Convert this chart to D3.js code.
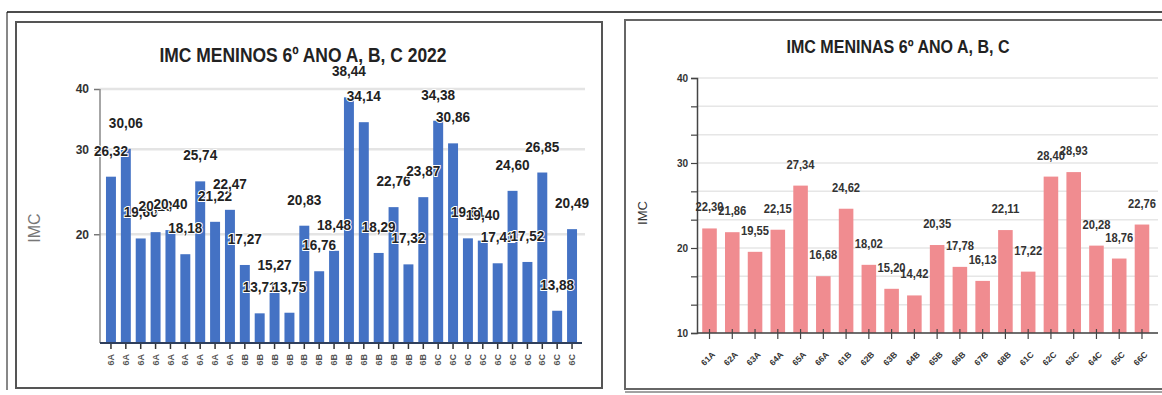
<!DOCTYPE html>
<meta charset="utf-8">
<script src="https://d3js.org/d3.v7.min.js"></script>
<style>
  body { margin: 0; background: #fff; }
  svg { display: block; }
  text { font-family: "Liberation Sans", Arial, sans-serif; }
</style>
<div id="chart"></div>
<script>
  // boys: categories and values
  var boysClass = ["6A","6A","6A","6A","6A","6A","6A","6A","6A",
    "6B","6B","6B","6B","6B","6B","6B","6B","6B","6B","6B","6B","6B",
    "6C","6C","6C","6C","6C","6C","6C","6C","6C","6C"];
  var boysIMC = [26.32, 30.06, 19.60, 20.20, 20.40, 18.18, 25.74, 21.22, 22.47,
    17.27, 13.71, 15.27, 13.75, 20.83, 16.76, 18.48, 38.44, 34.14, 18.29, 22.76, 17.32, 23.87,
    34.38, 30.86, 19.61, 19.40, 17.41, 24.60, 17.52, 26.85, 13.88, 20.49];
  var boysTicks = [20, 30, 40];

  // girls: categories and values
  var girlsClass = ["61A","62A","63A","64A","65A","66A","61B","62B","63B","64B",
    "65B","66B","67B","68B","61C","62C","63C","64C","65C","66C"];
  var girlsIMC = [22.30, 21.86, 19.55, 22.15, 27.34, 16.68, 24.62, 18.02, 15.20, 14.42,
    20.35, 17.78, 16.13, 22.11, 17.22, 28.40, 28.93, 20.28, 18.76, 22.76];
  var girlsTicks = [10, 20, 30, 40];

  var fmt = function (v) { return v.toFixed(2).replace(".", ","); };

  var svg = d3.select("#chart").append("svg")
    .attr("width", 1162).attr("height", 395);

  // frames
  svg.append("line").attr("x1", 7).attr("x2", 1162).attr("y1", 12).attr("y2", 12)
    .attr("stroke", "#111").attr("stroke-width", 1.5);
  svg.append("line").attr("x1", 7).attr("x2", 7).attr("y1", 12).attr("y2", 390)
    .attr("stroke", "#111").attr("stroke-width", 1);
  svg.append("rect").attr("x", 16).attr("y", 22).attr("width", 586).attr("height", 366)
    .attr("fill", "none").attr("stroke", "#555").attr("stroke-width", 2);
  svg.append("rect").attr("x", 625).attr("y", 20).attr("width", 545).attr("height", 369)
    .attr("fill", "none").attr("stroke", "#666").attr("stroke-width", 2);
  svg.append("line").attr("x1", 625).attr("x2", 1162).attr("y1", 392).attr("y2", 392)
    .attr("stroke", "#444").attr("stroke-width", 1);

  // ---------- left chart (boys) ----------
  var L = svg.append("g");
  var x1 = d3.scaleBand().domain(d3.range(boysIMC.length))
    .range([103, 580]).paddingInner(0.33).paddingOuter(0.2);
  var y1 = d3.scaleLog().domain([11.9, 40]).range([343, 89]);

  L.selectAll(".grid").data(boysTicks).join("line")
    .attr("x1", 100).attr("x2", 585)
    .attr("y1", function (d) { return y1(d); }).attr("y2", function (d) { return y1(d); })
    .attr("stroke", "#e4e4e4").attr("stroke-width", 2.5);

  var yAxis1 = L.append("g").attr("transform", "translate(100,0)")
    .call(d3.axisLeft(y1).tickValues(boysTicks).tickSize(6).tickFormat(d3.format("d")));
  yAxis1.select(".domain").remove();
  yAxis1.selectAll(".tick line").attr("stroke", "#777").attr("stroke-width", 1.5);
  yAxis1.selectAll(".tick text").attr("font-size", 12).attr("font-weight", "bold")
    .attr("fill", "#333").attr("x", -11);
  L.append("line").attr("x1", 100).attr("x2", 100).attr("y1", 89).attr("y2", 343)
    .attr("stroke", "#888").attr("stroke-width", 1.5);

  L.selectAll(".bar").data(boysIMC).join("rect")
    .attr("x", function (d, i) { return x1(i); })
    .attr("y", function (d) { return y1(d); })
    .attr("width", x1.bandwidth())
    .attr("height", function (d) { return 343 - y1(d); })
    .attr("fill", "#4472c4");

  var xAxis1 = L.append("g").attr("transform", "translate(0,343)")
    .call(d3.axisBottom(x1).tickSize(6).tickFormat(function (i) { return boysClass[i]; }));
  xAxis1.select(".domain").remove();
  xAxis1.selectAll(".tick line").attr("stroke", "#333").attr("stroke-width", 1.5);
  xAxis1.selectAll(".tick text")
    .attr("transform", "rotate(-90)").attr("text-anchor", "end")
    .attr("x", -11).attr("y", 0).attr("dy", "0.35em")
    .attr("font-size", 9).attr("font-weight", "bold").attr("fill", "#555");
  L.append("line").attr("x1", 100).attr("x2", 582).attr("y1", 343).attr("y2", 343)
    .attr("stroke", "#2f3f5c").attr("stroke-width", 2);

  L.selectAll(".lbl").data(boysIMC).join("text")
    .attr("x", function (d, i) { return x1(i) + x1.bandwidth() / 2; })
    .attr("y", function (d) { return y1(d) - 21; })
    .attr("text-anchor", "middle")
    .attr("font-size", 15).attr("font-weight", "bold").attr("fill", "#222")
    .attr("textLength", 34).attr("lengthAdjust", "spacingAndGlyphs")
    .attr("stroke", "#fff").attr("stroke-width", 2).attr("paint-order", "stroke")
    .text(fmt);

  L.append("text").attr("x", 303).attr("y", 62).attr("text-anchor", "middle")
    .attr("font-size", 20).attr("font-weight", "bold").attr("fill", "#222")
    .attr("textLength", 287).attr("lengthAdjust", "spacingAndGlyphs")
    .text("IMC MENINOS 6º ANO A, B, C 2022");
  L.append("text").attr("transform", "translate(40,228) rotate(-90)")
    .attr("text-anchor", "middle").attr("font-size", 16).attr("fill", "#777")
    .text("IMC");

  // ---------- right chart (girls) ----------
  var R = svg.append("g");
  var x2 = d3.scaleBand().domain(girlsClass)
    .range([697, 1154.5]).paddingInner(0.36).paddingOuter(0.23);
  var y2 = d3.scaleLinear().domain([10, 40]).range([333, 78]);
  var minor = d3.range(0, 10).map(function (k) { return 10 + k * 10 / 3; });

  R.selectAll(".grid").data(minor).join("line")
    .attr("x1", 697).attr("x2", 1158)
    .attr("y1", function (d) { return y2(d); }).attr("y2", function (d) { return y2(d); })
    .attr("stroke", "#e6e6e6").attr("stroke-width", 1.5);

  var yAxis2 = R.append("g").attr("transform", "translate(697,0)")
    .call(d3.axisLeft(y2).tickValues(minor).tickSize(6)
      .tickFormat(function (d) { return girlsTicks.indexOf(Math.round(d * 1000) / 1000) >= 0 ? d : ""; }));
  yAxis2.select(".domain").attr("stroke", "#444").attr("stroke-width", 1.5);
  yAxis2.selectAll(".tick line").attr("stroke", "#444").attr("stroke-width", 1.2);
  yAxis2.selectAll(".tick text").attr("font-size", 10).attr("font-weight", "bold")
    .attr("fill", "#333").attr("x", -9);

  R.selectAll(".bar").data(girlsIMC).join("rect")
    .attr("x", function (d, i) { return x2(girlsClass[i]); })
    .attr("y", function (d) { return y2(d); })
    .attr("width", x2.bandwidth())
    .attr("height", function (d) { return 333 - y2(d); })
    .attr("fill", "#f08c90");

  var xAxis2 = R.append("g").attr("transform", "translate(0,333)")
    .call(d3.axisBottom(x2).tickSize(6));
  xAxis2.select(".domain").remove();
  xAxis2.selectAll(".tick line").attr("stroke", "#444").attr("stroke-width", 1.2).attr("y1", -4);
  xAxis2.selectAll(".tick text")
    .attr("transform", "translate(4,20) rotate(-45)").attr("text-anchor", "end")
    .attr("x", 0).attr("y", 0).attr("dy", "0.35em")
    .attr("font-size", 8.5).attr("font-weight", "bold").attr("fill", "#333");
  R.append("line").attr("x1", 697).attr("x2", 1158).attr("y1", 333).attr("y2", 333)
    .attr("stroke", "#444").attr("stroke-width", 1.5);

  R.selectAll(".lbl").data(girlsIMC).join("text")
    .attr("x", function (d, i) { return x2(girlsClass[i]) + x2.bandwidth() / 2; })
    .attr("y", function (d) { return y2(d) - 17; })
    .attr("text-anchor", "middle")
    .attr("font-size", 12).attr("font-weight", "bold").attr("fill", "#333")
    .attr("textLength", 28).attr("lengthAdjust", "spacingAndGlyphs")
    .text(fmt);

  R.append("text").attr("x", 898).attr("y", 53).attr("text-anchor", "middle")
    .attr("font-size", 19).attr("font-weight", "bold").attr("fill", "#222")
    .attr("textLength", 223).attr("lengthAdjust", "spacingAndGlyphs")
    .text("IMC MENINAS 6º ANO A, B, C");
  R.append("text").attr("transform", "translate(647,213) rotate(-90)")
    .attr("text-anchor", "middle").attr("font-size", 13).attr("fill", "#333")
    .text("IMC");
</script>
